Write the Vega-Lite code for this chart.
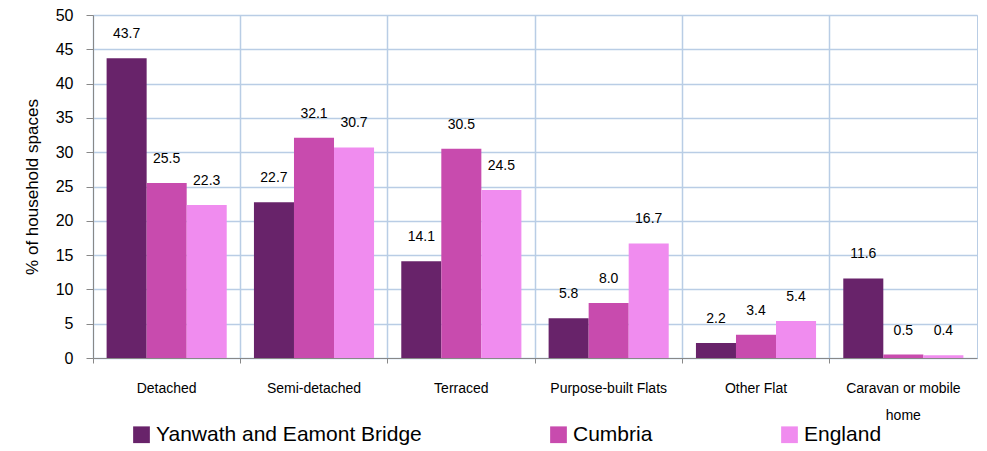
{
  "$schema": "https://vega.github.io/schema/vega-lite/v6.json",
  "autosize": "none",
  "width": 884,
  "height": 343,
  "padding": {"left": 93, "top": 15, "right": 10, "bottom": 93},
  "background": "white",
  "config": {
    "font": "Liberation Sans",
    "view": {"stroke": "#B9CDE5", "strokeWidth": 1}
  },
  "data": {
    "values": [
      {"type": "Detached", "area": "Yanwath and Eamont Bridge", "value": 43.7},
      {"type": "Detached", "area": "Cumbria", "value": 25.5},
      {"type": "Detached", "area": "England", "value": 22.3},
      {"type": "Semi-detached", "area": "Yanwath and Eamont Bridge", "value": 22.7},
      {"type": "Semi-detached", "area": "Cumbria", "value": 32.1},
      {"type": "Semi-detached", "area": "England", "value": 30.7},
      {"type": "Terraced", "area": "Yanwath and Eamont Bridge", "value": 14.1},
      {"type": "Terraced", "area": "Cumbria", "value": 30.5},
      {"type": "Terraced", "area": "England", "value": 24.5},
      {"type": "Purpose-built Flats", "area": "Yanwath and Eamont Bridge", "value": 5.8},
      {"type": "Purpose-built Flats", "area": "Cumbria", "value": 8.0},
      {"type": "Purpose-built Flats", "area": "England", "value": 16.7},
      {"type": "Other Flat", "area": "Yanwath and Eamont Bridge", "value": 2.2},
      {"type": "Other Flat", "area": "Cumbria", "value": 3.4},
      {"type": "Other Flat", "area": "England", "value": 5.4},
      {"type": "Caravan or mobile home", "area": "Yanwath and Eamont Bridge", "value": 11.6},
      {"type": "Caravan or mobile home", "area": "Cumbria", "value": 0.5},
      {"type": "Caravan or mobile home", "area": "England", "value": 0.4}
    ]
  },
  "encoding": {
    "x": {
      "field": "type",
      "type": "nominal",
      "sort": null,
      "scale": {"paddingInner": 0, "paddingOuter": 0},
      "axis": {
        "title": null,
        "labelAngle": 0,
        "labelFontSize": 14,
        "labelColor": "#000000",
        "labelPadding": 18,
        "labelLineHeight": 27,
        "labelExpr": "datum.value == 'Caravan or mobile home' ? ['Caravan or mobile', 'home'] : datum.value",
        "bandPosition": 0,
        "grid": true,
        "gridColor": "#B9CDE5",
        "gridWidth": 1.5,
        "domainColor": "#888888",
        "domainWidth": 1,
        "tickColor": "#888888",
        "tickSize": 5
      }
    },
    "xOffset": {
      "field": "area",
      "type": "nominal",
      "sort": ["Yanwath and Eamont Bridge", "Cumbria", "England"],
      "scale": {"paddingInner": 0, "paddingOuter": 0.34}
    },
    "y": {
      "field": "value",
      "type": "quantitative",
      "scale": {"domain": [0, 50]},
      "axis": {
        "title": "% of household spaces",
        "titleFontSize": 17,
        "titleFontWeight": "normal",
        "titleColor": "#000000",
        "titlePadding": 14,
        "values": [0, 5, 10, 15, 20, 25, 30, 35, 40, 45, 50],
        "labelFontSize": 16,
        "labelColor": "#000000",
        "labelPadding": 13,
        "grid": true,
        "gridColor": "#B9CDE5",
        "gridWidth": 1.5,
        "domainColor": "#888888",
        "tickColor": "#888888",
        "tickSize": 7
      }
    }
  },
  "layer": [
    {
      "mark": {"type": "bar"},
      "encoding": {
        "color": {
          "field": "area",
          "type": "nominal",
          "sort": ["Yanwath and Eamont Bridge", "Cumbria", "England"],
          "scale": {
            "domain": ["Yanwath and Eamont Bridge", "Cumbria", "England"],
            "range": ["#68236A", "#C84BAE", "#F08CEF"]
          },
          "legend": {
            "title": null,
            "orient": "none",
            "legendX": 38,
            "legendY": 409,
            "direction": "horizontal",
            "columns": 3,
            "columnPadding": 126,
            "symbolType": "square",
            "symbolSize": 280,
            "symbolStrokeWidth": 0,
            "symbolOpacity": 1,
            "labelFontSize": 21,
            "labelColor": "#000000",
            "labelOffset": 4,
            "labelLimit": 400
          }
        }
      }
    },
    {
      "mark": {"type": "text", "baseline": "bottom", "dy": -17, "fontSize": 14, "color": "#000000"},
      "encoding": {
        "text": {"field": "value", "type": "quantitative", "format": ".1f"}
      }
    }
  ]
}
